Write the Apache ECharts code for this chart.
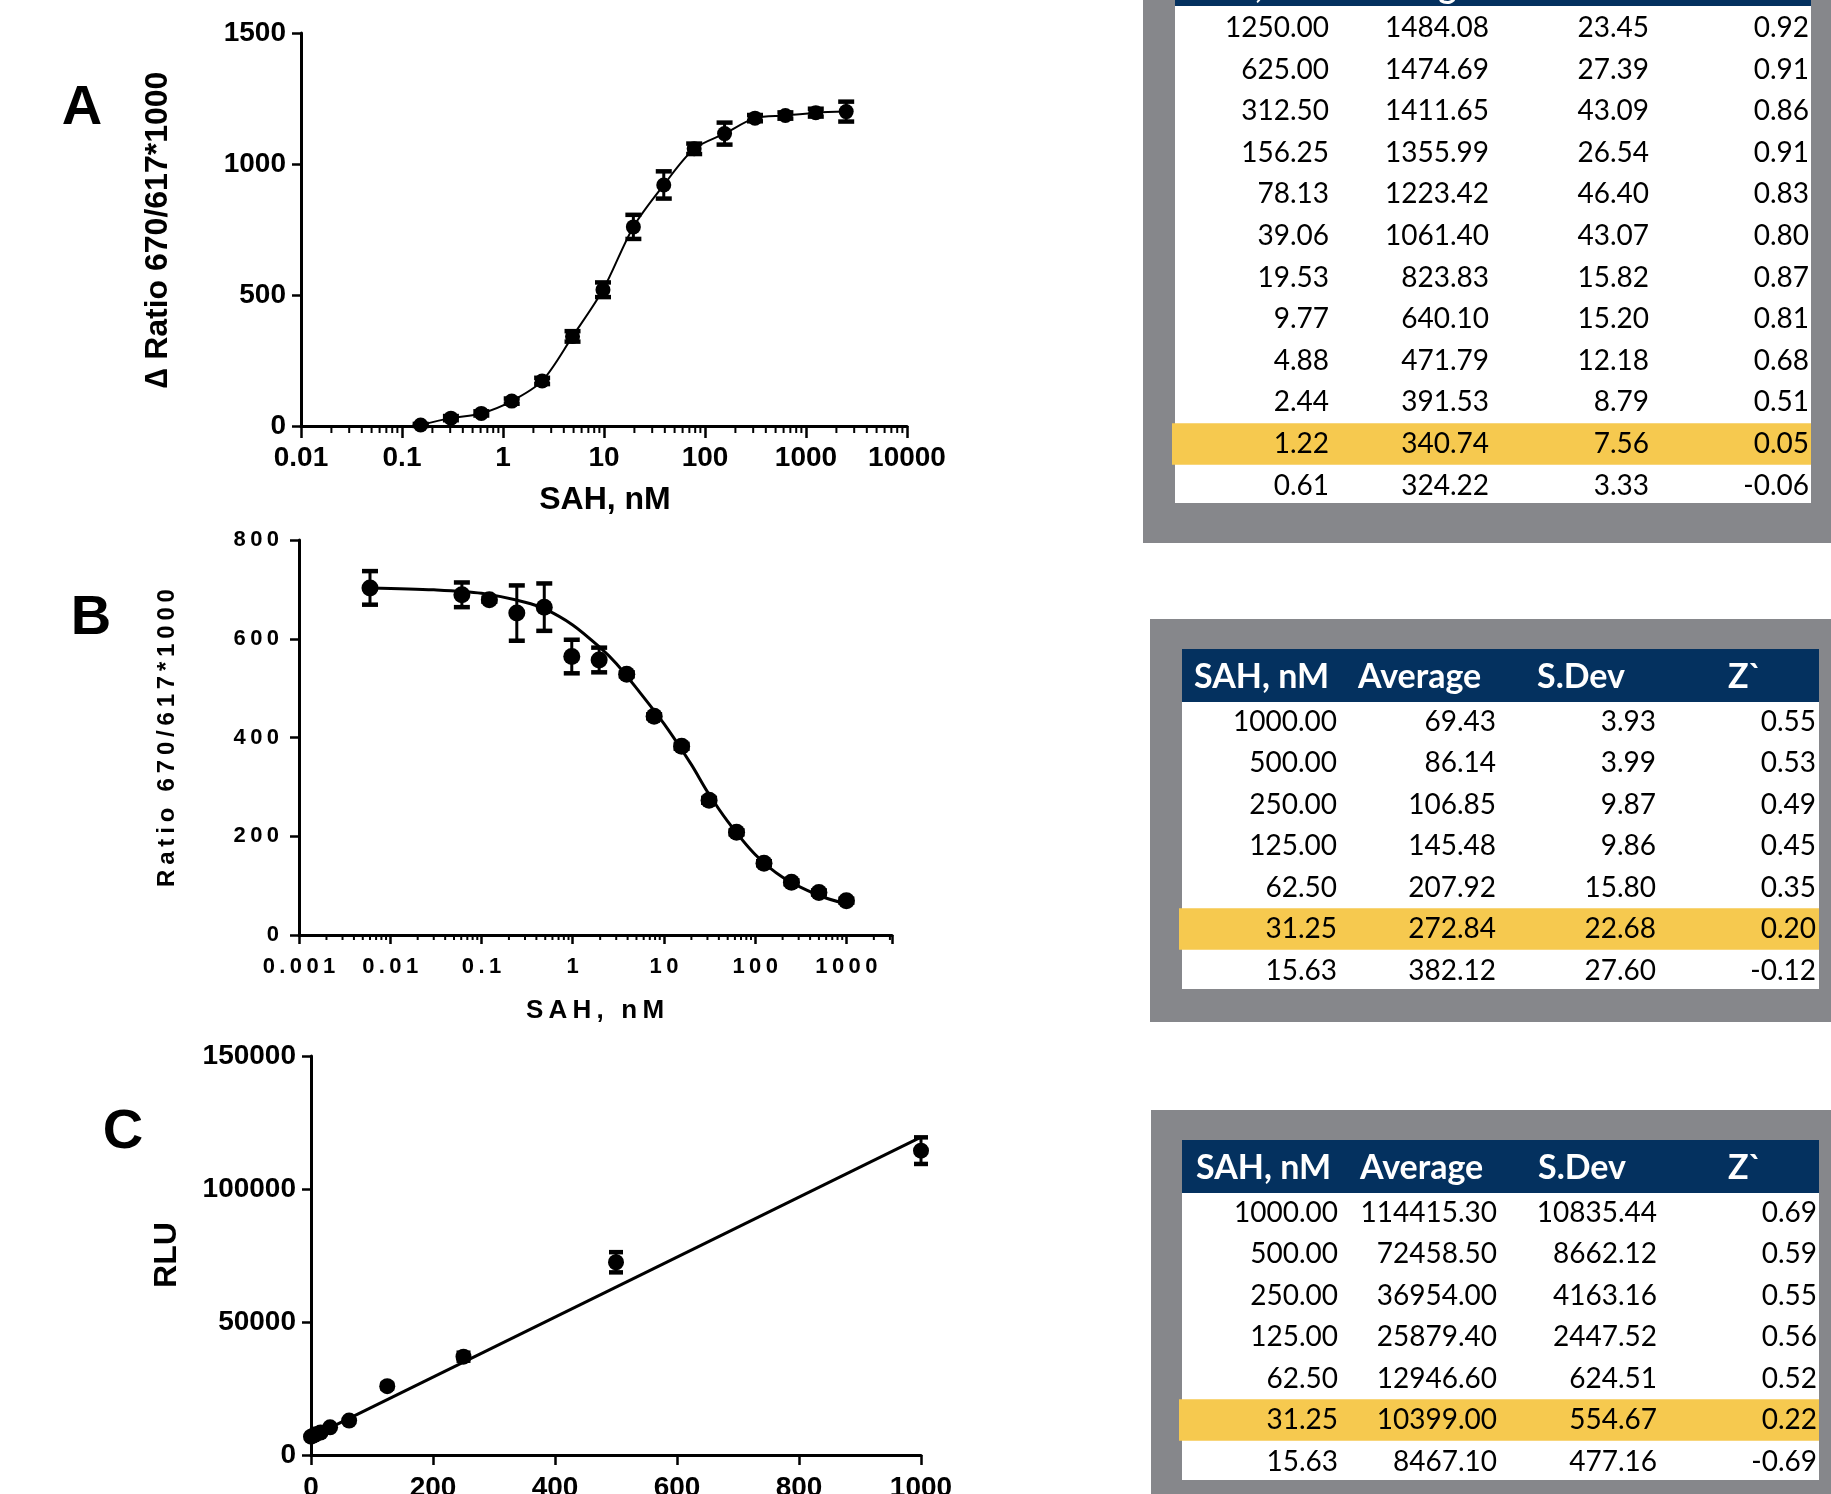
<!DOCTYPE html>
<html>
<head>
<meta charset="utf-8">
<script src="https://cdn.jsdelivr.net/npm/echarts@6/dist/echarts.min.js"></script>
<style>
  html, body { margin: 0; padding: 0; background: #fff; }
  #main { width: 1831px; height: 1494px; }
</style>
</head>
<body>
<div id="main"></div>
<script>
// ---- panel A : delta ratio vs SAH (log x) ----
const aConc = [0.153, 0.305, 0.61, 1.22, 2.44, 4.88, 9.77, 19.53, 39.06, 78.13, 156.25, 312.5, 625, 1250, 2500];
const aRatio = [4, 30, 48, 95, 172, 342, 520, 760, 920, 1058, 1116, 1175, 1185, 1196, 1200];
const aErr = [4, 8, 8, 10, 12, 20, 28, 46, 52, 20, 42, 12, 12, 15, 38];

// ---- panel B : ratio vs SAH (log x), points + fitted curve ----
const bConc = [0.006, 0.061, 0.122, 0.244, 0.488, 0.977, 1.95, 3.91, 7.81, 15.63, 31.25, 62.5, 125, 250, 500, 1000];
const bRatio = [703, 689, 679, 652, 664, 564, 557, 528, 443, 382.12, 272.84, 207.92, 145.48, 106.85, 86.14, 69.43];
const bErr = [34, 25, 4, 56, 48, 34, 25, 4, 4, 5, 5, 4, 4, 4, 4, 4];
const bFitConc = [0.006, 0.03, 0.1, 0.3, 0.5, 1, 2, 3, 5, 10, 20, 30, 50, 100, 200, 500, 1000];
const bFitRatio = [703, 699, 692, 674, 660, 628, 582, 550, 500, 428, 345, 290, 230, 163, 117, 80, 63];

// ---- panel C : RLU vs SAH (linear) ----
const cConc = [0, 3.91, 7.81, 15.63, 31.25, 62.5, 125, 250, 500, 1000];
const cRlu = [6900, 7300, 7800, 8467.1, 10399, 12946.6, 25879.4, 36954, 72458.5, 114415.3];
const cErr = [300, 300, 300, 400, 400, 500, 900, 1500, 3800, 5000];
const cFitConc = [0, 1000];
const cFitRlu = [6700, 119500];

// ---- tables ----
const tabAConc = [1250, 625, 312.5, 156.25, 78.13, 39.06, 19.53, 9.77, 4.88, 2.44, 1.22, 0.61];
const tabAAvg = [1484.08, 1474.69, 1411.65, 1355.99, 1223.42, 1061.40, 823.83, 640.10, 471.79, 391.53, 340.74, 324.22];
const tabASd = [23.45, 27.39, 43.09, 26.54, 46.40, 43.07, 15.82, 15.20, 12.18, 8.79, 7.56, 3.33];
const tabAZ = [0.92, 0.91, 0.86, 0.91, 0.83, 0.80, 0.87, 0.81, 0.68, 0.51, 0.05, -0.06];

const tabBConc = [1000, 500, 250, 125, 62.5, 31.25, 15.63];
const tabBAvg = [69.43, 86.14, 106.85, 145.48, 207.92, 272.84, 382.12];
const tabBSd = [3.93, 3.99, 9.87, 9.86, 15.80, 22.68, 27.60];
const tabBZ = [0.55, 0.53, 0.49, 0.45, 0.35, 0.20, -0.12];

const tabCConc = [1000, 500, 250, 125, 62.5, 31.25, 15.63];
const tabCAvg = [114415.30, 72458.50, 36954.00, 25879.40, 12946.60, 10399.00, 8467.10];
const tabCSd = [10835.44, 8662.12, 4163.16, 2447.52, 624.51, 554.67, 477.16];
const tabCZ = [0.69, 0.59, 0.55, 0.56, 0.52, 0.22, -0.69];

const tableHeaders = ['SAH, nM', 'Average', 'S.Dev', 'Z`'];

const SANS = "'Liberation Sans', Arial, sans-serif";
const TFONT = "Lato, 'Noto Sans', sans-serif";
const GRAY = '#86878b';
const NAVY = '#04315f';
const YELLOW = '#f6c94f';

const isDecade = v => Math.abs(Math.log10(v) - Math.round(Math.log10(v))) < 1e-6;
const decadeLabel = v => (isDecade(v) ? String(+v.toPrecision(6)) : '');
// panel B text is letter-spaced in the original
const spaced = s => s.split('').join('\u2009');

// log minor ticks (2..9 per decade) for the axes
function minorTicks(e0, e1, max) {
  const out = [];
  for (let e = e0; e <= e1; e++) {
    for (let m = 2; m <= 9; m++) {
      const v = m * Math.pow(10, e);
      if (v <= max) out.push(v);
    }
  }
  return out;
}

function tickSeries(idx, vals, len) {
  return {
    type: 'custom', xAxisIndex: idx, yAxisIndex: idx, silent: true, z: 5,
    data: vals.map(v => [v, 0]),
    renderItem: (p, api) => {
      const c = api.coord([api.value(0), api.value(1)]);
      return { type: 'line', shape: { x1: c[0], y1: c[1], x2: c[0], y2: c[1] + len },
        style: { stroke: '#000', lineWidth: 2 } };
    }
  };
}

function errSeries(idx, xs, ys, err, cap, lw) {
  return {
    type: 'custom', xAxisIndex: idx, yAxisIndex: idx, silent: true, z: 3,
    encode: { x: 0, y: [1, 2] },
    data: xs.map((x, i) => [x, ys[i] - err[i], ys[i] + err[i]]),
    renderItem: (p, api) => {
      const lo = api.coord([api.value(0), api.value(1)]);
      const hi = api.coord([api.value(0), api.value(2)]);
      const st = { stroke: '#000', lineWidth: lw };
      const cs = { stroke: '#000', lineWidth: lw + 1.5 };
      return { type: 'group', children: [
        { type: 'line', shape: { x1: lo[0], y1: lo[1], x2: hi[0], y2: hi[1] }, style: st },
        { type: 'line', shape: { x1: lo[0] - cap, y1: lo[1], x2: lo[0] + cap, y2: lo[1] }, style: cs },
        { type: 'line', shape: { x1: hi[0] - cap, y1: hi[1], x2: hi[0] + cap, y2: hi[1] }, style: cs }
      ] };
    }
  };
}

function axisStyle(extra) {
  return Object.assign({
    axisLine: { show: true, onZero: false, lineStyle: { color: '#000', width: 3 } },
    axisTick: { show: true, length: 10, lineStyle: { color: '#000', width: 2.5 } },
    splitLine: { show: false },
    minorTick: { show: false }
  }, extra);
}

function tableGraphics(cols, hi, g) {
  const els = [];
  els.push({ type: 'rect', z: 0, shape: { x: g.box[0], y: g.box[1], width: g.box[2], height: g.box[3] }, style: { fill: GRAY } });
  els.push({ type: 'rect', z: 1, shape: { x: g.body[0], y: g.body[1], width: g.body[2], height: g.body[3] }, style: { fill: '#fff' } });
  els.push({ type: 'rect', z: 2, shape: { x: g.head[0], y: g.head[1], width: g.head[2], height: g.head[3] }, style: { fill: NAVY } });
  tableHeaders.forEach((h, j) => {
    els.push({ type: 'text', z: 3, x: g.headX[j], y: g.headY,
      style: { text: h, fill: '#fff', font: 'bold 34px ' + TFONT, align: 'left', verticalAlign: 'middle' } });
  });
  cols[0].forEach((_, i) => {
    const cy = g.row0 + i * g.rowH;
    if (i === hi) {
      els.push({ type: 'rect', z: 2, shape: { x: g.body[0] - 3, y: cy - g.rowH / 2, width: g.body[2] + 3, height: g.rowH }, style: { fill: YELLOW } });
    }
    cols.forEach((col, j) => {
      els.push({ type: 'text', z: 3, x: g.right[j], y: cy,
        style: { text: col[i].toFixed(2), fill: '#000', font: '28px ' + TFONT, align: 'right', verticalAlign: 'middle' } });
    });
  });
  return els;
}

const labelGraphics = [
  { type: 'text', x: 82, y: 109, style: { text: 'A', font: 'bold 56px ' + SANS, fill: '#000', align: 'center', verticalAlign: 'middle' } },
  { type: 'text', x: 91, y: 619, style: { text: 'B', font: 'bold 56px ' + SANS, fill: '#000', align: 'center', verticalAlign: 'middle' } },
  { type: 'text', x: 123, y: 1133, style: { text: 'C', font: 'bold 56px ' + SANS, fill: '#000', align: 'center', verticalAlign: 'middle' } },
  { type: 'text', x: 158, y: 230, rotation: Math.PI / 2, style: { text: '\u2206 Ratio 670/617*1000', font: 'bold 32px ' + SANS, fill: '#000', align: 'center', verticalAlign: 'middle' } },
  { type: 'text', x: 605, y: 500, style: { text: 'SAH, nM', font: 'bold 32px ' + SANS, fill: '#000', align: 'center', verticalAlign: 'middle' } },
  { type: 'text', x: 167, y: 738, rotation: Math.PI / 2, style: { text: spaced('Ratio 670/617*1000'), font: 'bold 24px ' + SANS, fill: '#000', align: 'center', verticalAlign: 'middle' } },
  { type: 'text', x: 595, y: 1011, style: { text: spaced('SAH, nM'), font: 'bold 26px ' + SANS, fill: '#000', align: 'center', verticalAlign: 'middle' } },
  { type: 'text', x: 167, y: 1255, rotation: Math.PI / 2, style: { text: 'RLU', font: 'bold 32px ' + SANS, fill: '#000', align: 'center', verticalAlign: 'middle' } }
];

const tableEls = [].concat(
  tableGraphics([tabAConc, tabAAvg, tabASd, tabAZ], 10, {
    box: [1143, 0, 688, 543], body: [1175, 0, 636, 503], head: [1175, 0, 636, 6],
    headX: [1187, 1351, 1530, 1721], headY: -13, row0: 28, rowH: 41.6,
    right: [1329, 1489, 1649, 1809]
  }),
  tableGraphics([tabBConc, tabBAvg, tabBSd, tabBZ], 5, {
    box: [1150, 619, 681, 403], body: [1182, 702, 637, 287], head: [1182, 649, 637, 53],
    headX: [1194, 1358, 1537, 1728], headY: 677, row0: 721.6, rowH: 41.5,
    right: [1337, 1496, 1656, 1816]
  }),
  tableGraphics([tabCConc, tabCAvg, tabCSd, tabCZ], 5, {
    box: [1151, 1110, 680, 384], body: [1182, 1193, 637, 287], head: [1182, 1140, 637, 53],
    headX: [1196, 1360, 1538, 1728], headY: 1168, row0: 1212.5, rowH: 41.5,
    right: [1338, 1497, 1657, 1817]
  })
);

const chart = echarts.init(document.getElementById('main'));
const bLabel = { color: '#000', fontSize: 22, fontWeight: 'bold', fontFamily: SANS };
const acLabel = { color: '#000', fontSize: 28, fontWeight: 'bold', fontFamily: SANS };
const dot = { color: '#000', opacity: 1 };

chart.setOption({
  animation: false,
  backgroundColor: '#fff',
  grid: [
    { left: 301, top: 33, width: 606, height: 393, containLabel: false, outerBoundsMode: 'none' },
    { left: 299, top: 540, width: 593, height: 395, containLabel: false, outerBoundsMode: 'none' },
    { left: 311, top: 1056, width: 610, height: 399, containLabel: false, outerBoundsMode: 'none' }
  ],
  xAxis: [
    axisStyle({ gridIndex: 0, type: 'log', logBase: 10, min: 0.01, max: 10000,
      axisTick: { show: true, length: 12, lineStyle: { color: '#000', width: 2.5 } },
      axisLabel: Object.assign({ margin: 18, formatter: decadeLabel }, acLabel) }),
    axisStyle({ gridIndex: 1, type: 'log', logBase: 10, min: 0.001, max: 3162.2776601683795,
      axisTick: { show: true, length: 9, lineStyle: { color: '#000', width: 2.5 } },
      axisLabel: Object.assign({ margin: 21, formatter: v => spaced(decadeLabel(v)) }, bLabel) }),
    axisStyle({ gridIndex: 2, type: 'value', min: 0, max: 1000, interval: 200,
      axisTick: { show: true, length: 10, lineStyle: { color: '#000', width: 2.5 } },
      axisLabel: Object.assign({ margin: 19, formatter: v => String(v) }, acLabel) })
  ],
  yAxis: [
    axisStyle({ gridIndex: 0, type: 'value', min: 0, max: 1500, interval: 500,
      axisTick: { show: true, length: 9, lineStyle: { color: '#000', width: 2.5 } },
      axisLabel: Object.assign({ margin: 15, formatter: v => String(v) }, acLabel) }),
    axisStyle({ gridIndex: 1, type: 'value', min: 0, max: 800, interval: 200,
      axisTick: { show: true, length: 9, lineStyle: { color: '#000', width: 2.5 } },
      axisLabel: Object.assign({ margin: 20, formatter: v => spaced(String(v)) }, bLabel) }),
    axisStyle({ gridIndex: 2, type: 'value', min: 0, max: 150000, interval: 50000,
      axisTick: { show: true, length: 9, lineStyle: { color: '#000', width: 2.5 } },
      axisLabel: Object.assign({ margin: 15, formatter: v => String(v) }, acLabel) })
  ],
  series: [
    // A
    tickSeries(0, minorTicks(-2, 3, 10000), 7),
    { type: 'line', xAxisIndex: 0, yAxisIndex: 0, smooth: 0.3, showSymbol: false, silent: true, z: 1,
      lineStyle: { color: '#000', width: 2 }, data: aConc.map((x, i) => [x, aRatio[i]]) },
    errSeries(0, aConc, aRatio, aErr, 8, 3),
    { type: 'scatter', xAxisIndex: 0, yAxisIndex: 0, symbol: 'circle', symbolSize: 15, z: 4,
      itemStyle: dot, data: aConc.map((x, i) => [x, aRatio[i]]) },
    // B
    tickSeries(1, minorTicks(-3, 3, 3162.3), 5),
    { type: 'line', xAxisIndex: 1, yAxisIndex: 1, smooth: 0.3, showSymbol: false, silent: true, z: 1,
      lineStyle: { color: '#000', width: 3 }, data: bFitConc.map((x, i) => [x, bFitRatio[i]]) },
    errSeries(1, bConc, bRatio, bErr, 8, 3),
    { type: 'scatter', xAxisIndex: 1, yAxisIndex: 1, symbol: 'circle', symbolSize: 17, z: 4,
      itemStyle: dot, data: bConc.map((x, i) => [x, bRatio[i]]) },
    // C
    { type: 'line', xAxisIndex: 2, yAxisIndex: 2, showSymbol: false, silent: true, z: 1,
      lineStyle: { color: '#000', width: 3 }, data: cFitConc.map((x, i) => [x, cFitRlu[i]]) },
    errSeries(2, cConc, cRlu, cErr, 7, 3),
    { type: 'scatter', xAxisIndex: 2, yAxisIndex: 2, symbol: 'circle', symbolSize: 16, z: 4,
      itemStyle: dot, data: cConc.map((x, i) => [x, cRlu[i]]) }
  ],
  graphic: { elements: labelGraphics.concat(tableEls) }
});
</script>
</body>
</html>
